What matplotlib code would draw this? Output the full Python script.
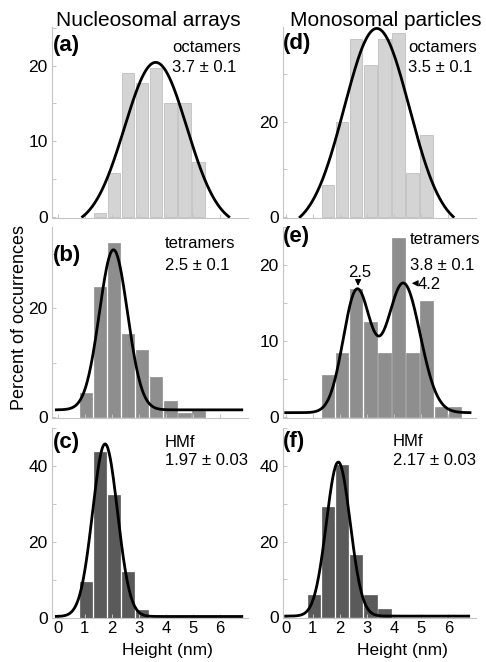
import numpy as np
import matplotlib
matplotlib.use("Agg")
import matplotlib.pyplot as plt
from matplotlib.ticker import MultipleLocator

plt.rcParams['font.family'] = ['Liberation Sans', 'DejaVu Sans']

# histogram bin centres (nm)
bins_a = [1.56, 2.08, 2.60, 3.12, 3.64, 4.16, 4.68, 5.20]
pct_a = [0.5, 5.8, 19.0, 17.7, 19.7, 15.0, 15.0, 7.2]
bins_b = [1.04, 1.56, 2.08, 2.60, 3.12, 3.64, 4.16, 4.68, 5.20]
pct_b = [4.4, 23.9, 32.1, 15.3, 12.4, 7.3, 3.0, 0.8, 1.1]
bins_c = [1.04, 1.56, 2.08, 2.60, 3.12]
pct_c = [9.5, 43.8, 32.4, 11.9, 2.0]
bins_d = [1.56, 2.08, 2.60, 3.12, 3.64, 4.16, 4.68, 5.20]
pct_d = [6.7, 20.0, 37.4, 31.9, 37.4, 38.6, 9.3, 17.2]
bins_e = [1.56, 2.08, 2.60, 3.12, 3.64, 4.16, 4.68, 5.20, 5.72, 6.24]
pct_e = [5.5, 8.4, 16.8, 12.5, 8.4, 23.6, 8.4, 15.3, 1.3, 1.3]
bins_f = [1.04, 1.56, 2.08, 2.60, 3.12, 3.64]
pct_f = [6.0, 29.2, 40.2, 16.4, 6.0, 2.1]

# gaussian fits: (centre, sigma, amplitude), baseline offset, plotted x range
fit_a = [(3.62, 1.15, 21.8)]; off_a = -1.38; rng_a = (0.92, 6.32)
fit_b = [(2.06, 0.52, 29.5)]; off_b = 1.3; rng_b = (-0.05, 6.8)
fit_c = [(1.75, 0.46, 45.5)]; off_c = 0.3; rng_c = (-0.05, 6.8)
fit_d = [(3.36, 1.20, 42.2)]; off_d = -2.6; rng_d = (0.53, 6.18)
fit_e = [(2.62, 0.50, 15.9), (4.34, 0.62, 17.0)]; off_e = 0.6; rng_e = (0.0, 6.8)
fit_f = [(1.94, 0.44, 40.7)]; off_f = 0.3; rng_f = (0.0, 6.75)

labels = ['(a)', '(b)', '(c)', '(d)', '(e)', '(f)']
species = ['octamers', 'tetramers', 'HMf', 'octamers', 'tetramers', 'HMf']
values = ['3.7 \u00b1 0.1', '2.5 \u00b1 0.1', '1.97 \u00b1 0.03',
          '3.5 \u00b1 0.1', '3.8 \u00b1 0.1', '2.17 \u00b1 0.03']

light, mid, dark = '#d4d4d4', '#8e8e8e', '#5a5a5a'
gray = '#c4c4c4'

fig = plt.figure(figsize=(4.86, 6.62), dpi=100)
W, H = 486., 662.

def add_ax(x0, x1, y0, y1):
    return fig.add_axes([x0 / W, 1 - y1 / H, (x1 - x0) / W, (y1 - y0) / H])

cols = [(52, 248), (283, 476)]
rows = [(27, 217.5), (227, 418), (428, 618)]

panels = [
    (bins_a, pct_a, fit_a, off_a, rng_a, light, (-0.1, 25.1), 10, 5),
    (bins_b, pct_b, fit_b, off_b, rng_b, mid, (-0.2, 35.0), 20, 10),
    (bins_c, pct_c, fit_c, off_c, rng_c, dark, (-0.1, 50.0), 20, 10),
    (bins_d, pct_d, fit_d, off_d, rng_d, light, (-0.1, 39.9), 20, 10),
    (bins_e, pct_e, fit_e, off_e, rng_e, mid, (-0.1, 25.0), 10, 5),
    (bins_f, pct_f, fit_f, off_f, rng_f, dark, (-0.2, 50.0), 20, 10),
]

# text positions in axes fractions
lab_pos = [(0.005, 0.905), (0.005, 0.853), (0.005, 0.926),
           (0.0, 0.916), (0.0, 0.948), (0.0, 0.93)]
sp_pos = [(0.612, 0.89), (0.577, 0.916), (0.577, 0.926),
          (0.648, 0.89), (0.658, 0.932), (0.57, 0.93)]
val_pos = [(0.612, 0.785), (0.577, 0.80), (0.577, 0.83),
           (0.648, 0.79), (0.658, 0.80), (0.57, 0.83)]

axes = []
for i, (bx, py, fit, off, rng, col, ylim, major, minor) in enumerate(panels):
    c, r = divmod(i, 3)
    ax = add_ax(cols[c][0], cols[c][1], rows[r][0], rows[r][1])
    axes.append(ax)
    ax.bar(bx, py, width=0.46, color=col, edgecolor='#b8b8b8' if col == light else col,
           linewidth=0.5, zorder=1)
    xs = np.linspace(rng[0], rng[1], 300)
    ys = np.full_like(xs, off)
    for m, s, a in fit:
        ys = ys + a * np.exp(-(xs - m) ** 2 / (2 * s ** 2))
    ax.plot(xs, ys, color='k', lw=2.0, zorder=3)
    ax.set_xlim((-0.21, 7.03) if c == 0 else (-0.1, 7.02))
    ax.set_ylim(ylim)
    ax.yaxis.set_major_locator(MultipleLocator(major))
    ax.yaxis.set_minor_locator(MultipleLocator(minor))
    ax.set_xticks(range(7))
    for side in ['top', 'right']:
        ax.spines[side].set_visible(False)
    for side in ['left', 'bottom']:
        ax.spines[side].set_color(gray)
        ax.spines[side].set_linewidth(0.8)
    ax.tick_params(which='both', direction='in', color=gray, length=3, width=0.7)
    ax.tick_params(axis='y', labelsize=12.5, pad=3)
    ax.tick_params(axis='x', labelsize=12, pad=2)
    if r < 2:
        ax.tick_params(axis='x', labelbottom=False)
    ax.patch.set_alpha(0)
    ax.text(*lab_pos[i], labels[i], transform=ax.transAxes, fontsize=16,
            fontweight='bold', ha='left', va='center')
    ax.text(*sp_pos[i], species[i], transform=ax.transAxes, fontsize=12,
            ha='left', va='center')
    ax.text(*val_pos[i], values[i], transform=ax.transAxes, fontsize=12,
            ha='left', va='center')

# peak markers in (e)
ax_e = axes[4]
ax_e.text(2.74, 19.0, '2.5', fontsize=12, ha='center', va='center')
ax_e.annotate('', xy=(2.67, 16.9), xytext=(2.67, 18.1),
              arrowprops=dict(arrowstyle='-|>', color='k', lw=0.8, mutation_scale=9))
ax_e.text(4.88, 17.4, '4.2', fontsize=12, ha='left', va='center')
ax_e.annotate('', xy=(4.55, 17.6), xytext=(4.88, 17.6),
              arrowprops=dict(arrowstyle='-|>', color='k', lw=0.8, mutation_scale=9))

fig.text(148 / W, 1 - 20 / H, 'Nucleosomal arrays', fontsize=15, ha='center', va='center')
fig.text(386 / W, 1 - 20 / H, 'Monosomal particles', fontsize=15, ha='center', va='center')
fig.text(19 / W, 1 - 318 / H, 'Percent of occurrences', fontsize=13, rotation=90,
         ha='center', va='center')
fig.text(167 / W, 1 - 651 / H, 'Height (nm)', fontsize=12.5, ha='center', va='center')
fig.text(402 / W, 1 - 650 / H, 'Height (nm)', fontsize=12.5, ha='center', va='center')

fig.savefig('out.png', dpi=100)
